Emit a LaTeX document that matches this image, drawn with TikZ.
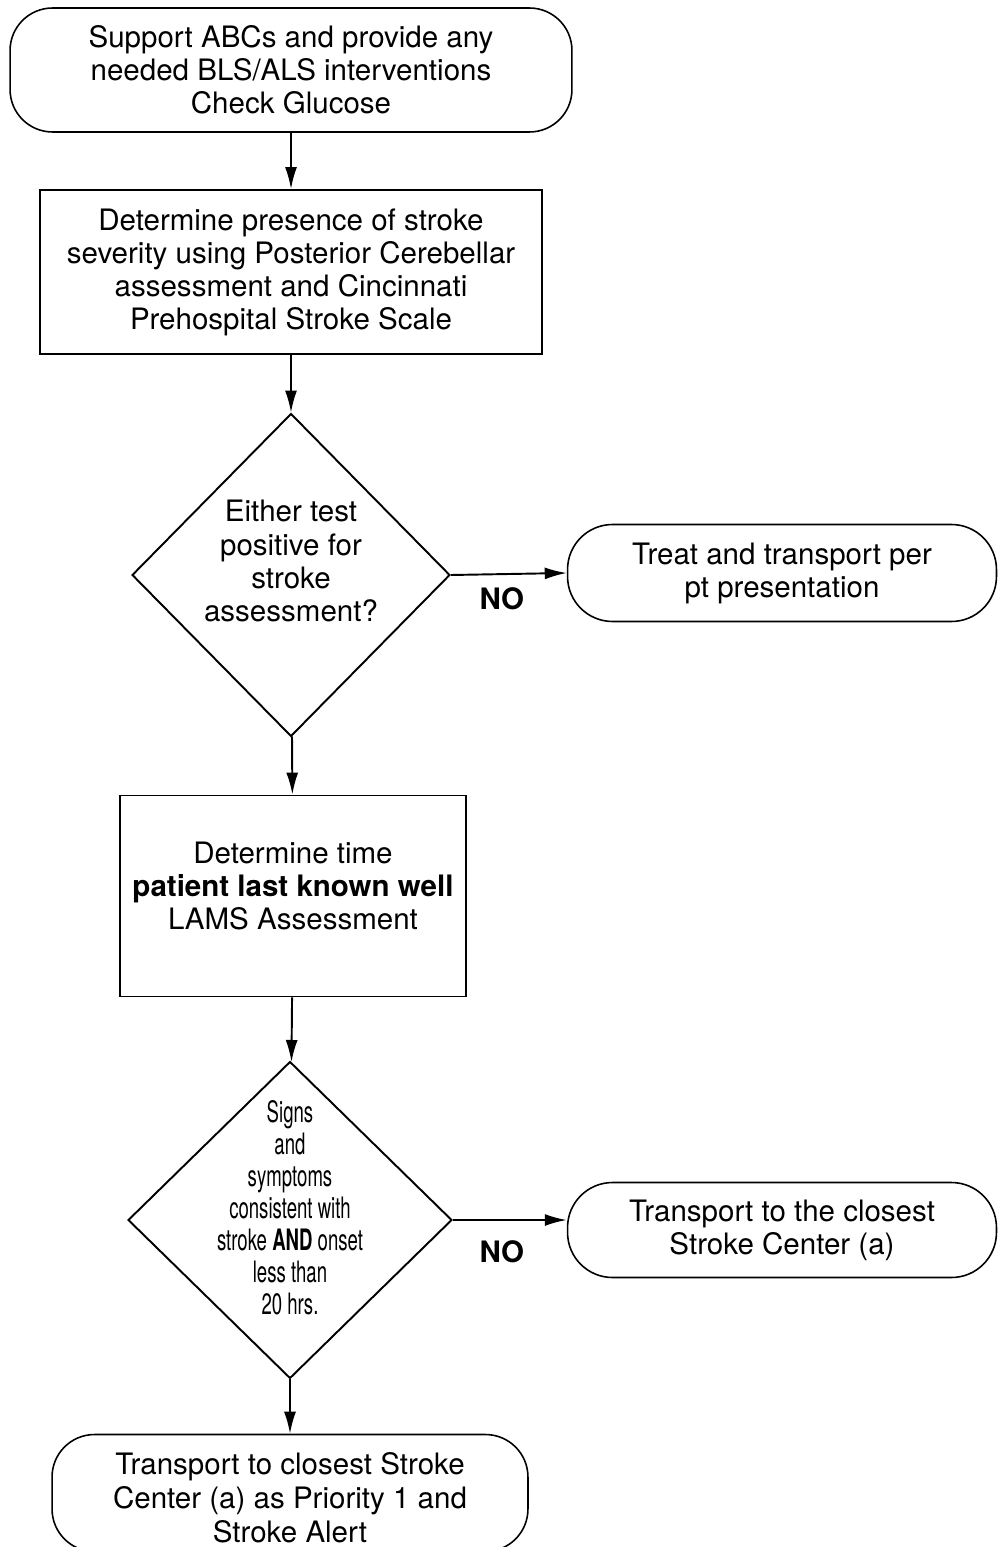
\documentclass[tikz,border=0pt]{standalone}
\usepackage{fontspec}
\setmainfont{TeX Gyre Heros}
\newfontfamily\narrowfont[FakeStretch=0.63]{TeX Gyre Heros}
\usetikzlibrary{shapes.geometric,arrows.meta}

\tikzset{
  flow/.style={line width=1.1pt, -{Latex[length=0.44cm,width=0.24cm]}},
  terminal/.style={draw, line width=0.9pt, rounded corners=0.85cm, align=center,
    font=\fontsize{16.8}{18.8}\selectfont},
  process/.style={draw, line width=1.1pt, align=center,
    font=\fontsize{16.8}{18.8}\selectfont},
  decision/.style={draw, diamond, line width=1.1pt, inner sep=0pt},
  boxtext/.style={align=center, font=\fontsize{16.8}{18.8}\selectfont},
  answer/.style={font=\fontsize{16.8}{18.8}\selectfont\bfseries}
}

\begin{document}
\begin{tikzpicture}[x=0.02cm, y=-0.02cm]
        \useasboundingbox (0,0) rectangle (998,1547);
        \clip (0,0) rectangle (998,1547);

        % Initial care.
        \node[terminal, minimum width=11.24cm, minimum height=2.48cm]
        (abc) at (291,70) {Support ABCs and provide any\\
          needed BLS/ALS interventions\\Check Glucose};

        % Stroke screen.
        \node[process, minimum width=10.04cm, minimum height=3.28cm]
        (screen) at (291,272) {Determine presence of stroke\\
          severity using Posterior Cerebellar\\
          assessment and Cincinnati\\Prehospital Stroke Scale};

        % First question.
        \node[decision, minimum width=6.36cm, minimum height=6.46cm]
        (positive) at (291,575) {};
        \node[boxtext] (positivetxt) at (291,561)
        {Either test\\positive for\\stroke\\assessment?};

        \node[terminal, rounded corners=0.9cm, minimum width=8.58cm,
          minimum height=1.94cm] (treat) at (782,573)
        {Treat and transport per\\pt presentation};

        % Time last known well.
        \node[process, minimum width=6.92cm, minimum height=4.02cm]
        (lkw) at (293,896) {};
        \node[boxtext] (lkwtxt) at (293,886) {Determine time\\
          \textbf{patient last known well}\\LAMS Assessment};

        % Second question.
        \node[decision, minimum width=6.48cm, minimum height=6.34cm]
        (onset) at (290,1220) {};
        \node[boxtext, font=\fontsize{16.8}{18.2}\narrowfont]
        (onsettxt) at (290,1208) {Signs\\and\\symptoms\\consistent with\\
          stroke \textbf{AND} onset\\less than\\20 hrs.};

        \node[terminal, rounded corners=0.9cm, minimum width=8.58cm,
          minimum height=1.9cm] (closest) at (782,1230)
        {Transport to the closest\\Stroke Center (a)};

        % Final transport.
        \node[terminal, minimum width=9.52cm, minimum height=2.34cm]
        (alert) at (290,1493) {};
        \node[boxtext, font=\fontsize{16.8}{19.4}\selectfont]
        (alerttxt) at (290,1498) {Transport to closest Stroke\\
          Center (a) as Priority 1 and\\Stroke Alert};

        % Connectors.
        \draw[flow] (abc) -- (screen);
        \draw[flow] (screen) -- (positive);
        \draw[flow] (positive.east) -- (treat.west)
        node[answer, midway, below=4pt, xshift=-0.14cm] {NO};
        \draw[flow] (positive) -- (lkw);
        \draw[flow] (lkw) -- (onset);
        \draw[flow] (onset.east) -- (onset.east -| closest.west)
        node[answer, midway, below=8pt, xshift=-0.16cm] {NO};
        \draw[flow] (onset) -- (alert);
      \end{tikzpicture}
\end{document}
